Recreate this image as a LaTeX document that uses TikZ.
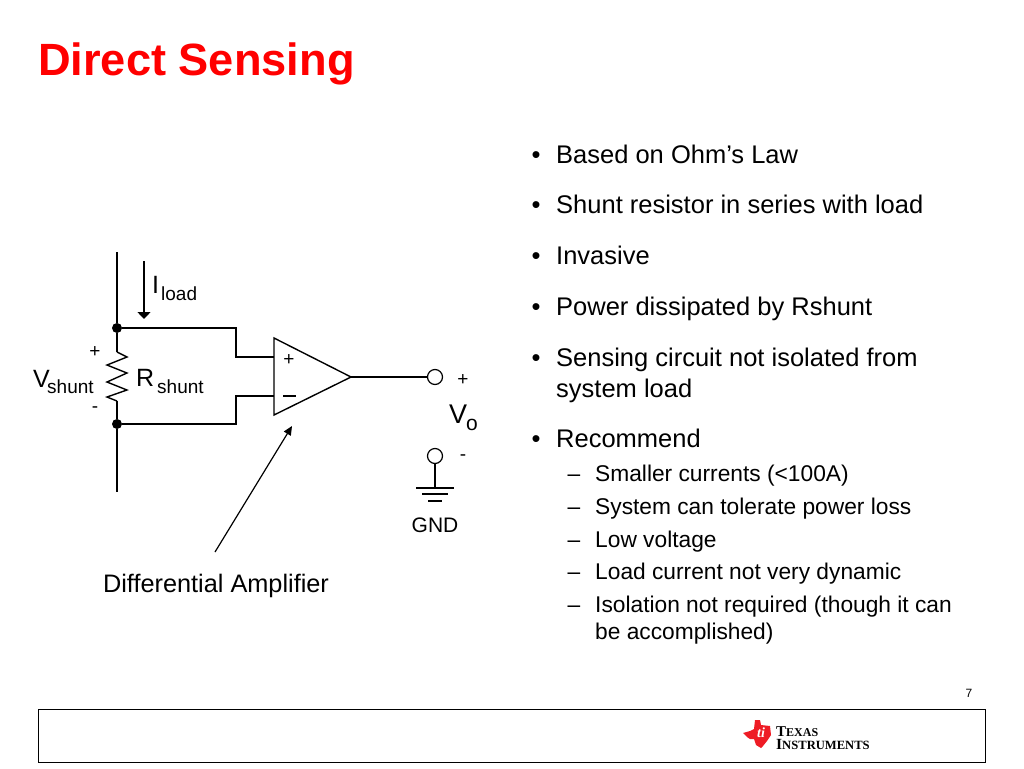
\documentclass[tikz,border=0pt]{standalone}
\usepackage{fontspec}
\setmainfont{Liberation Sans}
\newfontfamily\logofont{Liberation Serif}
\usetikzlibrary{positioning}
\usetikzlibrary{arrows.meta}

\definecolor{tired}{RGB}{238,28,37}
\definecolor{titlered}{RGB}{255,0,0}

\begin{document}
\begin{tikzpicture}
	[x=1pt,
	y=-1pt,
	wire/.style={line width=1.4pt,black},
	dot/.style={circle,fill=black,inner sep=0pt,minimum size=10pt},
	terminal/.style={circle,draw=black,fill=white,line width=1.2pt,inner sep=0pt,minimum size=15pt},
	label/.style={inner sep=0pt,font=\fontsize{25}{25}\selectfont},
	small/.style={inner sep=0pt,font=\fontsize{19}{19}\selectfont},
	bullet/.style={inner sep=0pt,anchor=base west,align=left,font=\fontsize{25.5}{31}\selectfont},
	subbullet/.style={inner sep=0pt,anchor=base west,align=left,font=\fontsize{22.75}{27}\selectfont}]

\useasboundingbox (0,0) rectangle (1024,768);

\def\BulletX{556}
\def\DashX{595}

% Title
\node (title) [anchor=base west,inner sep=0pt,text=titlered,font=\fontsize{45.2}{45}\selectfont\bfseries]
	at (38,75) {Direct Sensing};

% Bullets
\foreach \Name/\Y/\Text in {
	ohm/163/Based on Ohm’s Law,
	series/213/Shunt resistor in series with load,
	invasive/264/Invasive,
	power/315/Power dissipated by Rshunt,
	isolated/366/Sensing circuit not isolated from,
	recommend/447/Recommend}
{
	\node (\Name) [bullet] at (\BulletX,\Y) {\Text};
	\node (\Name mark) [bullet,anchor=base] at (536,\Y) {•};
}
\node (isolated2) [bullet] at (\BulletX,397) {system load};

\foreach \Name/\Y/\Text in {
	currents/481/Smaller currents (<100A),
	tolerate/514/System can tolerate power loss,
	voltage/547/Low voltage,
	dynamic/579/Load current not very dynamic,
	required/612/Isolation not required (though it can}
{
	\node (\Name) [subbullet] at (\DashX,\Y) {\Text};
	\node (\Name mark) [subbullet,anchor=base] at (574,\Y) {–};
}
\node (required2) [subbullet] at (\DashX,639) {be accomplished)};

% Shunt
\coordinate (railtop) at (117,252);
\node (topdot) [dot] at (117,328) {};
\node (botdot) [dot] at (117,424) {};
\coordinate (railbot) at (117,492);
\coordinate (restop) at (117,352);
\coordinate (resbot) at (117,401);
\draw[wire] (railtop) -- (topdot) -- (restop);
\draw[wire] (resbot) -- (botdot) -- (railbot);
\draw[wire] (restop) -- (127,357) -- (107,365) -- (127,373) -- (107,382) -- (127,390) -- (107,397) -- (resbot);

% Load current
\coordinate (itop) at (144,261);
\coordinate (ibot) at (144,319);
\draw[wire,-{Triangle[width=13pt,length=7pt]}] (itop) -- (ibot);
\node (iload) [label,anchor=base west] at (152,293) {I};
\node (iloadsub) [small,anchor=base west] at (161,300) {load};

% Shunt labels
\node (vplus) [small,anchor=base] at (95,357) {+};
\node (vshunt) [label,anchor=base west] at (33,387) {V};
\node (vshuntsub) [small,anchor=base west] at (47,393) {shunt};
\node (vminus) [small,anchor=base] at (95,412) {-};
\node (rshunt) [label,anchor=base west] at (136,386) {R};
\node (rshuntsub) [small,anchor=base west] at (157,393) {shunt};

% Amplifier
\coordinate (plusin) at (274,357);
\coordinate (minusin) at (274,396);
\coordinate (ampout) at (351,377);
\draw[wire,line join=miter] (274,338) -- (ampout) -- (274,415) -- cycle;
\draw[wire] (topdot) -| (236,357) -- (plusin);
\draw[wire] (botdot) -| (236,396) -- (minusin);
\node (ampplus) [small,anchor=center] at (289,360) {+};
\draw[line width=2pt] (283,396) -- (296,396);

% Output
\node (vout) [terminal] at (435,377) {};
\draw[wire] (ampout) -- (vout);
\node (outplus) [small,anchor=base] at (463,385) {+};
\node (vo) [anchor=base west,inner sep=0pt,font=\fontsize{27}{27}\selectfont] at (449,423) {V};
\node (vosub) [anchor=base west,inner sep=0pt,font=\fontsize{21}{21}\selectfont] at (466,430) {o};
\node (outminus) [small,anchor=base] at (463,460) {-};

% Ground
\node (gndterm) [terminal] at (435,456) {};
\coordinate (gndtop) at (435,488);
\draw[wire] (gndterm) -- (gndtop);
\draw[wire] (416,488) -- (454,488);
\draw[wire] (422,494) -- (448,494);
\draw[wire] (428,501) -- (442,501);
\node (gnd) [anchor=base,inner sep=0pt,font=\fontsize{21}{21}\selectfont] at (435,532) {GND};

% Pointer
\node (diffamp) [anchor=base,inner sep=0pt,font=\fontsize{25.3}{25}\selectfont] at (216,592) {Differential Amplifier};
\coordinate (pointerfrom) at (215,552);
\coordinate (pointerto) at (292,426);
\draw[line width=1.2pt,-{Triangle[width=8pt,length=9pt]}] (pointerfrom) -- (pointerto);

% Footer
\node (pagenum) [anchor=base,inner sep=0pt,font=\fontsize{12}{12}\selectfont] at (969,697) {7};
\node (footer) [draw=black,line width=1pt,minimum width=947pt,minimum height=53pt,inner sep=0pt,anchor=north west] at (38,709) {};

% Logo
\fill[tired] (743,733) -- (750,731) -- (754,729) -- (755,720) -- (760,720) -- (761,725) -- (770,726) -- (771,735) -- (767,741) -- (763,746) -- (761,748) -- (756,745) -- (754,739) -- (750,739) -- (747,737) -- cycle;
\node (logoti) [inner sep=0pt,text=white,font=\logofont\itshape\bfseries\fontsize{14}{14}\selectfont] at (761,733) {ti};
\node (logotexas) [anchor=base west,inner sep=0pt,font=\logofont\bfseries\fontsize{15}{15}\selectfont] at (776,736) {T\fontsize{12}{12}\selectfont EXAS};
\node (logoinstr) [anchor=base west,inner sep=0pt,font=\logofont\bfseries\fontsize{15.5}{15}\selectfont] at (776,749) {I\fontsize{12.6}{12}\selectfont NSTRUMENTS};

\end{tikzpicture}
\end{document}
